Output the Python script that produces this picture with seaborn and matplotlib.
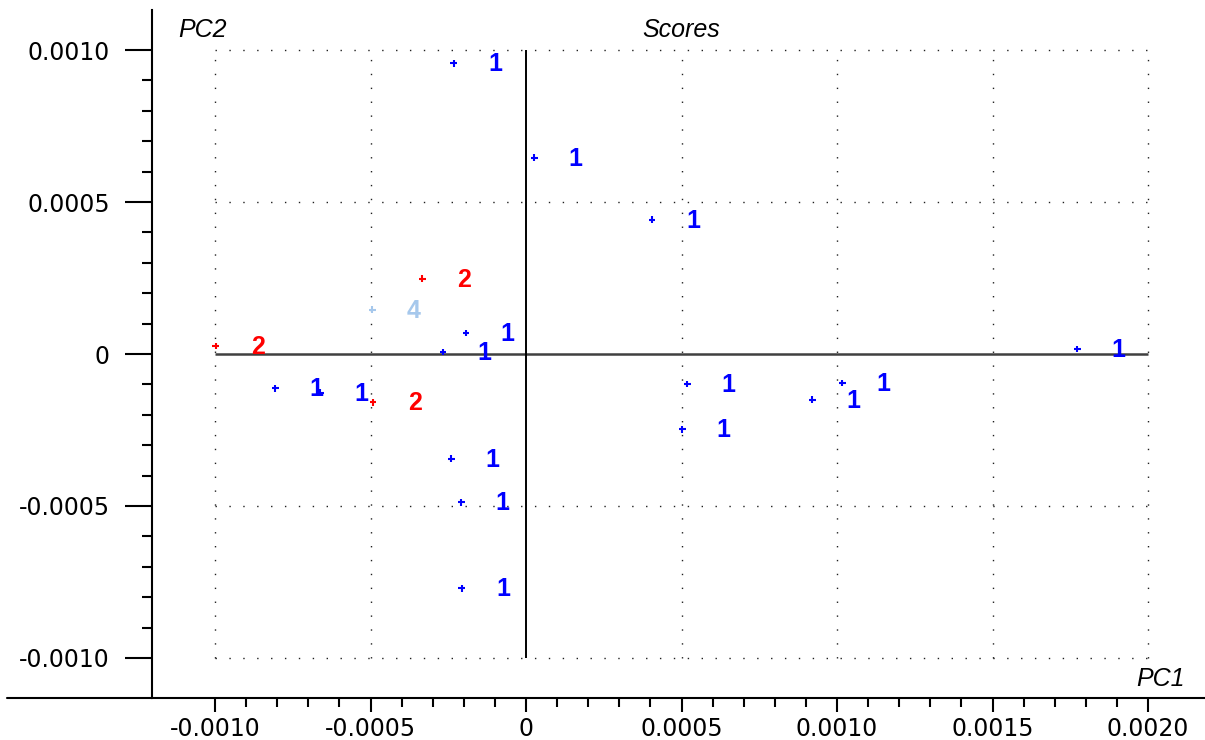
import matplotlib
matplotlib.use("Agg")
import matplotlib.pyplot as plt
import seaborn as sns
import pandas as pd
from matplotlib.lines import Line2D

# ---- data ----
pc1 = [-0.000232, 0.0000257, 0.000405, -0.000193, -0.000267, -0.000807, -0.000662,
       0.000518, 0.000502, 0.000920, 0.001016, 0.001772, -0.000241, -0.000209, -0.000206,
       -0.000997, -0.000334, -0.000492,
       -0.000495]
pc2 = [0.000957, 0.000645, 0.000441, 0.000069, 0.0000066, -0.000112, -0.000128,
       -0.0000987, -0.000247, -0.000151, -0.0000954, 0.0000164, -0.000345, -0.000487, -0.000770,
       0.0000263, 0.000247, -0.000158,
       0.000145]
group = ["1"] * 15 + ["2"] * 3 + ["4"]

x_ticks = [-0.0010, -0.0005, 0.0, 0.0005, 0.0010, 0.0015, 0.0020]
x_tick_labels = ["-0.0010", "-0.0005", "0", "0.0005", "0.0010", "0.0015", "0.0020"]
y_ticks = [-0.0010, -0.0005, 0.0, 0.0005, 0.0010]
y_tick_labels = ["-0.0010", "-0.0005", "0", "0.0005", "0.0010"]

palette = {"1": "#0000ff", "2": "#ff0000", "4": "#a6c8ec"}

df = pd.DataFrame({"PC1": pc1, "PC2": pc2, "group": group})

# ---- style ----
sns.set_style("ticks")
plt.rcParams["font.family"] = ["DejaVu Sans"]
plt.rcParams["text.color"] = "black"

W, H = 1205, 740
fig = plt.figure(figsize=(W / 100, H / 100), dpi=100)
ax = fig.add_axes([152 / W, 42 / H, (W - 152) / W, (698 - 10) / H])

xmin, xmax = -0.0012026, 0.002183
ymin, ymax = -0.0011316, 0.0011316
ax.set_xlim(xmin, xmax)
ax.set_ylim(ymin, ymax)

# bounded dotted grid
gx0, gx1 = -0.0010, 0.0020
gy0, gy1 = -0.0010, 0.0010
dot = (0, (1, 9))
for v in [-0.0010, -0.0005, 0.0005, 0.0010, 0.0015, 0.0020]:
    ax.vlines(v, gy0, gy1, colors="#202020", linestyles=[dot], linewidth=1.0, zorder=1)
for v in [-0.0010, -0.0005, 0.0005, 0.0010]:
    ax.hlines(v, gx0, gx1, colors="#202020", linestyles=[dot], linewidth=1.0, zorder=1)

# zero axes
ax.hlines(0, gx0, gx1, colors="#404040", linewidth=1.8, zorder=2)
ax.vlines(0, gy0, gy1, colors="black", linewidth=1.4, zorder=2)

sns.scatterplot(data=df, x="PC1", y="PC2", hue="group", palette=palette,
                marker="+", s=25, linewidth=1.5, legend=False, ax=ax, zorder=3)

for xv, yv, g in zip(pc1, pc2, group):
    ax.annotate(g, (xv, yv), xytext=(30, -0.5), textcoords="offset points",
                ha="center", va="center", fontsize=18, fontweight="bold",
                family=["Liberation Sans", "DejaVu Sans"],
                color=palette[g], zorder=4)

# spines & ticks
for s in ["top", "right"]:
    ax.spines[s].set_visible(False)
for s in ["left", "bottom"]:
    ax.spines[s].set_linewidth(1.5)
    ax.spines[s].set_color("black")

ax.set_xticks(x_ticks)
ax.set_xticklabels(x_tick_labels)
ax.set_yticks(y_ticks)
ax.set_yticklabels(y_tick_labels)
ax.set_xticks([v / 10000 for v in range(-10, 21)], minor=True)
ax.set_yticks([v / 10000 for v in range(-10, 11)], minor=True)
ax.tick_params(axis="y", which="major", length=19.5, width=1.5, pad=11, labelsize=17, colors="black")
ax.tick_params(axis="y", which="minor", length=7.2, width=1.5, colors="black")
ax.tick_params(axis="x", which="major", length=10, width=1.5, pad=4, labelsize=17, colors="black")
ax.tick_params(axis="x", which="minor", length=6.5, width=1.5, colors="black")
ax.set_xlabel("")
ax.set_ylabel("")

# extend bottom axis line to the left
fig.add_artist(Line2D([7 / W, 152 / W], [42 / H, 42 / H], color="black", linewidth=1.5))

# texts
tfam = ["Liberation Sans", "DejaVu Sans"]
fig.text(178 / W, 1 - 30 / H, "PC2", fontsize=18, style="italic", family=tfam,
         color="black", ha="left", va="center")
fig.text(681 / W, 1 - 30 / H, "Scores", fontsize=18, style="italic", family=tfam,
         color="black", ha="center", va="center")
fig.text(1185 / W, 1 - 679 / H, "PC1", fontsize=18, style="italic", family=tfam,
         color="black", ha="right", va="center")

fig.savefig("out.png", dpi=100)
